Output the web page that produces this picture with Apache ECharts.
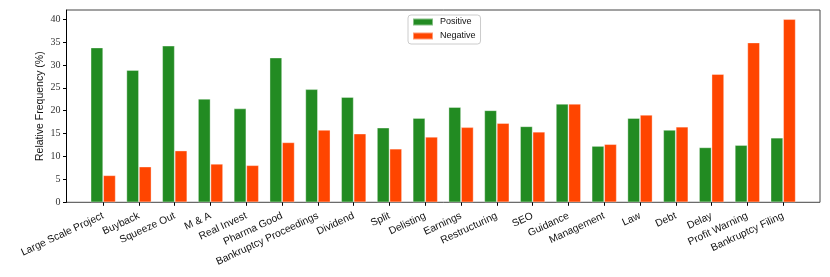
<!DOCTYPE html>
<html><head><meta charset="utf-8">
<script src="https://cdn.jsdelivr.net/npm/echarts@6/dist/echarts.min.js"></script>
<style>html,body{margin:0;padding:0;background:#fff}#c{width:830px;height:277px}</style>
</head><body><div id="c"></div>
<script>
const categories = ['Large Scale Project','Buyback','Squeeze Out','M & A','Real Invest','Pharma Good','Bankruptcy Proceedings','Dividend','Split','Delisting','Earnings','Restructuring','SEO','Guidance','Management','Law','Debt','Delay','Profit Warning','Bankruptcy Filing'];
const positive = [33.8,28.9,34.2,22.6,20.5,31.6,24.7,23.0,16.3,18.4,20.8,20.1,16.6,21.5,12.3,18.4,15.8,12.0,12.5,14.1];
const negative = [5.9,7.8,11.3,8.4,8.1,13.1,15.8,15.0,11.7,14.3,16.4,17.3,15.4,21.5,12.7,19.1,16.5,28.0,34.9,40.0];
const yTicks = [0,5,10,15,20,25,30,35,40];

const chart = echarts.init(document.getElementById('c'), null, {renderer:'canvas'});
const axisFont = 'Liberation Sans';
chart.setOption({
  animation:false,
  backgroundColor:'#fff',
  legend:{
    data:['Positive','Negative'], orient:'vertical', left:408, top:15,
    itemWidth:20, itemHeight:7, itemGap:2, padding:[1,5,2,4],
    borderColor:'#cccccc', borderWidth:1, borderRadius:3,
    textStyle:{fontFamily:axisFont, fontSize:9, color:'#111', lineHeight:12, padding:[0,0,0,2]},
    icon:'rect'
  },
  grid:[
    {left:66.5, right:10, top:10, bottom:74.7, show:true, borderColor:'#444', borderWidth:1, backgroundColor:'transparent'},
    {left:85.26, right:28.96, top:10, bottom:74.7}
  ],
  xAxis:[
    {gridIndex:0, type:'value', min:0, max:1, show:false},
    {gridIndex:1, type:'category', data:categories,
     axisLine:{show:false},
     axisTick:{show:true, alignWithLabel:true, length:3.5, lineStyle:{color:'#000'}},
     axisLabel:{rotate:25, margin:13, fontFamily:axisFont, fontSize:10.3, color:'#111', interval:0, align:'right', verticalAlign:'middle'}
    }
  ],
  yAxis:[
    {gridIndex:0, type:'value', min:0, max:42, interval:5,
     name:'Relative Frequency (%)', nameLocation:'middle', nameGap:21, nameMoveOverlap:false,
     nameTextStyle:{fontFamily:axisFont, fontSize:10.5, color:'#111'},
     axisLine:{show:true, lineStyle:{color:'#000', width:1}},
     axisTick:{show:true, length:3.5, lineStyle:{color:'#000'}, customValues:yTicks},
     axisLabel:{margin:6, fontFamily:'Liberation Serif', fontSize:10, color:'#333', customValues:yTicks,
       formatter:v => (v % 5 === 0 ? String(v) : '')},
     splitLine:{show:false}
    },
    {gridIndex:1, type:'value', min:0, max:42, show:false, splitLine:{show:false}}
  ],
  series:[
    {name:'Positive', type:'bar', xAxisIndex:1, yAxisIndex:1, data:positive, barWidth:'35%', barGap:'0%',
     itemStyle:{color:'#228B22', borderColor:'rgba(255,255,255,0.45)', borderWidth:0.8}},
    {name:'Negative', type:'bar', xAxisIndex:1, yAxisIndex:1, data:negative, barWidth:'35%', barGap:'0%',
     itemStyle:{color:'#FF4500', borderColor:'rgba(255,255,255,0.45)', borderWidth:0.8}}
  ]
});
</script></body></html>
